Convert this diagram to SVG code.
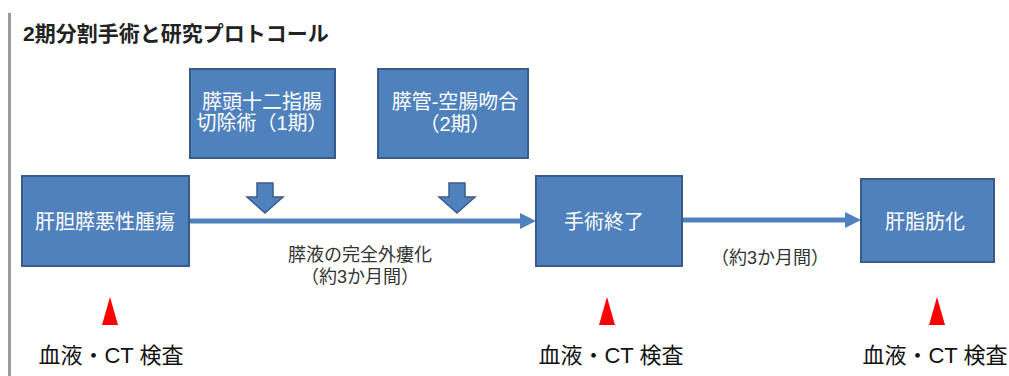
<svg xmlns="http://www.w3.org/2000/svg" width="1009" height="376" viewBox="0 0 1009 376">
<style>
.box{fill:#4F81BD;stroke:#385D8A;stroke-width:2}
.bt{fill:#ffffff;font-family:"Liberation Sans","Noto Sans CJK JP",sans-serif;font-size:20px;text-anchor:middle;dominant-baseline:central}
.lbl{fill:#333333;font-family:"Liberation Sans","Noto Sans CJK JP",sans-serif;font-size:18px;text-anchor:middle;dominant-baseline:central}
.exam{fill:#111111;font-family:"Liberation Sans","Noto Sans CJK JP",sans-serif;font-size:22px;text-anchor:middle;dominant-baseline:central}
.line{stroke:#4F81BD;stroke-width:5;fill:none}
.head{fill:#4F81BD}
.down{fill:#4F81BD;stroke:#385D8A;stroke-width:1.5}
.tri{fill:#FF0000}
</style>
<rect width="1009" height="376" fill="#ffffff"/>
<rect x="8" y="13" width="3" height="363" fill="#9a9a9a"/>
<text x="23" y="33" fill="#222222" font-family="Liberation Sans,'Noto Sans CJK JP',sans-serif" font-size="21" font-weight="bold" dominant-baseline="central">2期分割手術と研究プロトコール</text>

<g id="connectors">
<line class="line" x1="189" y1="221" x2="522" y2="221"/>
<polygon class="head" points="520,213 536,221 520,229"/>
<line class="line" x1="682" y1="220" x2="847" y2="220"/>
<polygon class="head" points="845,212 861,220 845,228"/>
<polygon class="down" points="257,183 273,183 273,197 283,197 265,213 247,197 257,197"/>
<polygon class="down" points="449,183 465,183 465,197 475,197 457,213 439,197 449,197"/>
</g>

<g id="n1"><rect class="box" x="22" y="176" width="167" height="90"/><text class="bt" x="105" y="222">肝胆膵悪性腫瘍</text></g>
<g id="n2"><rect class="box" x="190" y="69" width="145" height="89"/><text class="bt" x="262" y="102">膵頭十二指腸</text><text class="bt" x="262" y="123">切除術（1期）</text></g>
<g id="n3"><rect class="box" x="378" y="69" width="150" height="89"/><text class="bt" x="455" y="102">膵管-空腸吻合</text><text class="bt" x="455" y="124">（2期）</text></g>
<g id="n4"><rect class="box" x="536" y="176" width="146" height="90"/><text class="bt" x="604" y="222">手術終了</text></g>
<g id="n5"><rect class="box" x="861" y="179" width="133" height="83"/><text class="bt" x="925" y="222">肝脂肪化</text></g>

<g id="labels">
<text class="lbl" x="360" y="255">膵液の完全外瘻化</text>
<text class="lbl" x="360" y="277">（約3か月間）</text>
<text class="lbl" x="770" y="258">（約3か月間）</text>
</g>

<g id="exams">
<polygon class="tri" points="110,297 102,325 118,325"/>
<polygon class="tri" points="607,297 599,325 615,325"/>
<polygon class="tri" points="937,297 929,325 945,325"/>
<text class="exam" x="111" y="355">血液・CT 検査</text>
<text class="exam" x="611" y="355">血液・CT 検査</text>
<text class="exam" x="935" y="355">血液・CT 検査</text>
</g>
</svg>
